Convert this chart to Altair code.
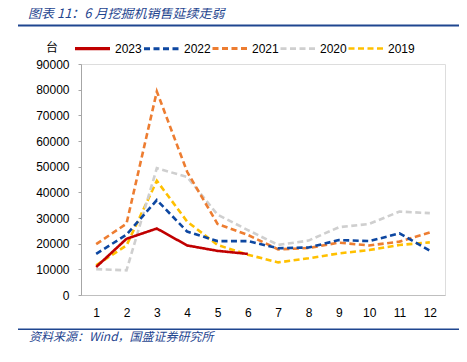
import altair as alt
import pandas as pd

months = list(range(1, 13))
years = ["2023", "2022", "2021", "2020", "2019"]
s2023 = [10900, 21900, 25900, 19300, 17200, 16000]
s2022 = [16000, 23500, 37000, 24700, 21000, 21000, 18200, 18500, 21400, 21000, 24000, 17300]
s2021 = [19800, 27800, 79300, 48000, 27700, 23400, 17800, 18300, 20400, 19300, 20800, 24400]
s2020 = [10100, 9600, 49400, 46000, 31300, 25300, 19500, 21200, 26400, 27700, 32500, 31900]
s2019 = [11600, 19300, 44500, 28600, 19500, 15700, 12700, 14300, 16200, 17500, 19500, 20500]
colors = ["#C00000", "#0D47A1", "#ED7D31", "#CFCFCF", "#FFC000"]

rows = []
for yr, ser in [("2019", s2019), ("2020", s2020), ("2021", s2021), ("2022", s2022), ("2023", s2023)]:
    for m, v in zip(months, ser):
        rows.append({"month": m, "year": yr, "value": v})
df = pd.DataFrame(rows)

blue = "#1F4690"
cjk = "Noto Sans CJK SC"

lines = alt.Chart(df).mark_line(strokeWidth=2.6).encode(
    x=alt.X("month:O", title=None, scale=alt.Scale(paddingOuter=0.5),
            axis=alt.Axis(labelAngle=0, ticks=False, labelPadding=12, domainColor="#BFBFBF",
                          labelFont="Liberation Sans", labelFontSize=12, labelColor="#000000")),
    y=alt.Y("value:Q", title=None, scale=alt.Scale(domain=[0, 90000], nice=False),
            axis=alt.Axis(values=list(range(0, 90001, 10000)), format="d", grid=False,
                          tickSize=3, tickColor="#A6A6A6", domainColor="#A6A6A6", labelPadding=9,
                          labelFont="Liberation Sans", labelFontSize=12, labelColor="#000000")),
    color=alt.Color("year:N", scale=alt.Scale(domain=years, range=colors),
                    legend=alt.Legend(title=None, orient="none", legendX=-8, legendY=-35,
                                      direction="horizontal", symbolType="stroke",
                                      symbolSize=1225, symbolStrokeWidth=3,
                                      labelFont="Liberation Sans", labelFontSize=12,
                                      labelOffset=3, columnPadding=-11)),
    strokeDash=alt.StrokeDash("year:N", scale=alt.Scale(domain=years,
                              range=[[1, 0], [6, 3.5], [6, 3.5], [6, 3.5], [6, 3.5]]),
                              legend=None),
    strokeWidth=alt.StrokeWidth("year:N", scale=alt.Scale(domain=years, range=[3.2, 2.6, 2.6, 2.6, 2.6]),
                                legend=None),
)

def txt(s, x, y, size=12, italic=False, color="#000000", align="left"):
    return alt.Chart(pd.DataFrame({"t": [s]})).mark_text(
        align=align, baseline="middle", font=cjk, fontSize=size,
        fontStyle="italic" if italic else "normal", color=color
    ).encode(x=alt.value(x), y=alt.value(y), text="t:N")

def bar(name, y1, y2, x1=-63, x2=380):
    return alt.Chart(pd.DataFrame({"name": [name]})).mark_rect(color=blue).encode(
        x=alt.value(x1), x2=alt.value(x2), y=alt.value(y1), y2=alt.value(y2))

title = txt("图表 11：6 月挖掘机销售延续走弱", -53, -50, size=13, italic=True, color=blue)
unit = txt("台", -29, -16, size=12, align="center")
source = txt("资料来源：Wind，国盛证券研究所", -52, 273, size=12, italic=True, color=blue)

chart = alt.layer(lines, bar("footer", 264.5, 266), bar("header", -39.5, -37.5),
                  title, unit, source).properties(
    width=364, height=231,
    autosize=alt.AutoSizeParams(type="none"),
    padding={"left": 73, "top": 56, "right": 14, "bottom": 59},
).configure_view(stroke=None).configure(background="white")

chart.save("out.html", embed_options={"renderer": "svg", "actions": False})
